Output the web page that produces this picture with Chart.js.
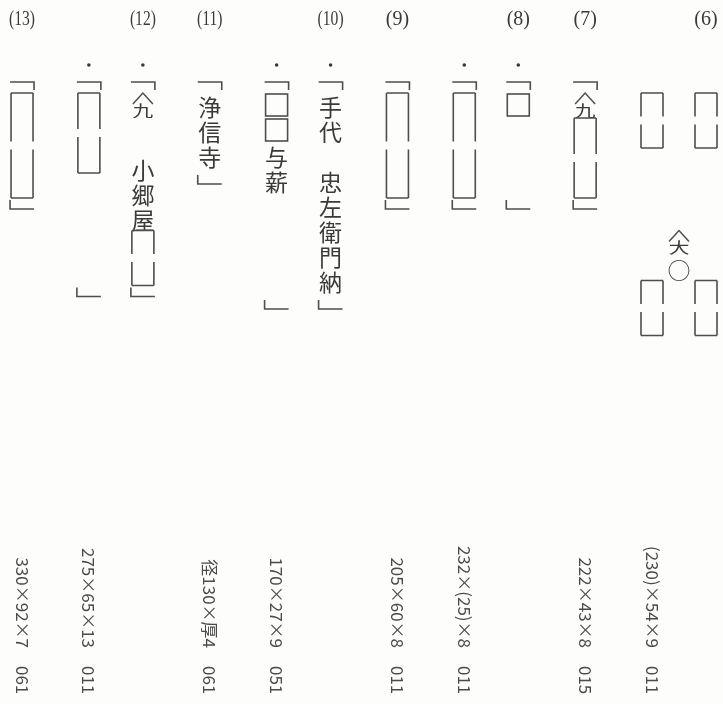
<!DOCTYPE html>
<html>
<head>
<meta charset="utf-8">
<script src="https://cdn.jsdelivr.net/npm/chart.js@4.4.0/dist/chart.umd.min.js"></script>
<style>
  html, body { margin: 0; background: #fdfdfc; }
  #wrap { width: 723px; height: 704px; }
</style>
</head>
<body>
<div id="wrap"><canvas id="c"></canvas></div>
<script>
// item numbers, right to left
const itemNos = ['(6)', '(7)', '(8)', '(9)', '(10)', '(11)', '(12)', '(13)'];
const dimensions = ['(230)×54×9', '222×43×8', '232×(25)×8', '205×60×8', '170×27×9', '径130×厚4', '275×65×13', '330×92×7'];
const typeCodes = ['011', '015', '011', '011', '051', '061', '011', '061'];

// one entry per written side (column); [n] = box of n characters, ^X = mark over X
const sideItem = [0, 0, 1, 2, 2, 3, 4, 4, 5, 6, 6, 7];
const sideText = [
  '　[2]　　　　　 [2]',
  '　[2]　　　　　 [2]',
  '「^九[3]」',
  '「□　　　」',
  '「[4]」',
  '「[4]」',
  '「手代　忠左衛門納」',
  '「□□与薪　　　　」',
  '「浄信寺」',
  '「^九　 小郷屋[2]」',
  '「[3]　　　　 」',
  '「[4]」'
];
const sideDot = [false, false, false, true, true, false, true, true, false, true, true, false];
const midText = ['　　　　　　 ^大○', '', '', '', '', '', '', ''];

// column slots: 1 between two sides of a piece, a bit more between pieces
const slots = [];
let s = 0;
sideItem.forEach((it, i) => {
  if (i > 0) s += (it === sideItem[i - 1]) ? 1 : 1.238;
  slots.push(s);
});

const INK = '#3a3a3a';
const LINE = '#4e4e4e';
const CJK = '"Noto Sans CJK JP", "Noto Sans CJK SC", sans-serif';

function isWide(ch) { return /[×\u3000-\u9fff]/.test(ch); }

function drawColumn(ctx, xs, ys, slot, text) {
  const x = xs.getPixelForValue(slot);
  const py = c => ys.getPixelForValue(c);
  const cell = py(1) - py(0);
  const chars = Array.from(text);
  let c = 0;
  ctx.strokeStyle = LINE;
  ctx.lineWidth = 1.6;
  ctx.fillStyle = INK;
  ctx.font = '23px ' + CJK;
  ctx.textAlign = 'center';
  ctx.textBaseline = 'middle';
  for (let i = 0; i < chars.length; i++) {
    const ch = chars[i];
    const t = py(c);
    if (ch === '　') { c += 1; continue; }
    if (ch === ' ') { c += 0.5; continue; }
    if (ch === '[') {
      let j = i + 1, num = '';
      while (chars[j] !== ']') num += chars[j++];
      const n = +num;
      const top = t - 2, bot = py(c + n) + 3, l = x - 11, r = x + 11;
      const mid = (top + bot) / 2;
      ctx.beginPath();
      ctx.moveTo(l, top); ctx.lineTo(r, top);
      ctx.moveTo(l, bot); ctx.lineTo(r, bot);
      if (n >= 2) {
        ctx.moveTo(l, top); ctx.lineTo(l, mid - 4);
        ctx.moveTo(l, mid + 4); ctx.lineTo(l, bot);
        ctx.moveTo(r, top); ctx.lineTo(r, mid - 4);
        ctx.moveTo(r, mid + 4); ctx.lineTo(r, bot);
      } else {
        ctx.moveTo(l, top); ctx.lineTo(l, bot);
        ctx.moveTo(r, top); ctx.lineTo(r, bot);
      }
      ctx.stroke();
      c += n; i = j; continue;
    }
    if (ch === '「') {
      ctx.beginPath();
      ctx.moveTo(x - 12, t + 12); ctx.lineTo(x + 12, t + 12); ctx.lineTo(x + 12, t + 20);
      ctx.stroke();
      c += 1; continue;
    }
    if (ch === '」') {
      ctx.beginPath();
      ctx.moveTo(x - 12, t + 5); ctx.lineTo(x - 12, t + 14); ctx.lineTo(x + 12, t + 14);
      ctx.stroke();
      c += 1; continue;
    }
    if (ch === '□') {
      ctx.strokeRect(x - 11, t - 1, 22, 22);
      c += 1; continue;
    }
    if (ch === '^') {
      // yama (roof) mark over a character
      ctx.beginPath();
      ctx.moveTo(x - 10, t + 9); ctx.lineTo(x, t - 2); ctx.lineTo(x + 10, t + 9);
      ctx.lineWidth = 1.5;
      ctx.stroke();
      ctx.lineWidth = 1.6;
      ctx.save();
      ctx.translate(x, t + 15);
      ctx.scale(0.9, 0.66);
      ctx.fillText(chars[i + 1], 0, 0);
      ctx.restore();
      c += 1; i += 1; continue;
    }
    ctx.fillText(ch, x, t + cell / 2);
    c += 1;
  }
}

function drawSideways(ctx, str, x, y, fs, alignEnd) {
  let total = 0;
  const ws = Array.from(str).map(ch => {
    const w = isWide(ch) ? fs : ctx.measureText(ch).width;
    total += w;
    return w;
  });
  ctx.save();
  ctx.translate(x, y);
  ctx.rotate(Math.PI / 2);
  let p = alignEnd ? -total : 0;
  Array.from(str).forEach((ch, k) => {
    ctx.fillText(ch, p + ws[k] / 2, 0);
    p += ws[k];
  });
  ctx.restore();
}

const pagePlugin = {
  id: 'page',
  afterDatasetsDraw(chart) {
    const ctx = chart.ctx;
    const xs = chart.scales.x, ys = chart.scales.y;
    ctx.save();
    sideText.forEach((t, i) => {
      drawColumn(ctx, xs, ys, slots[i], t);
      if (sideDot[i]) {
        ctx.fillStyle = INK;
        ctx.beginPath();
        ctx.arc(xs.getPixelForValue(slots[i]), ys.getPixelForValue(-0.2), 1.8, 0, Math.PI * 2);
        ctx.fill();
      }
    });
    itemNos.forEach((no, k) => {
      const idx = sideItem.map((v, i) => v === k ? i : -1).filter(i => i >= 0);
      const first = idx[0], last = idx[idx.length - 1];
      // number above the first side
      ctx.fillStyle = INK;
      ctx.font = '20px "Liberation Serif", "DejaVu Serif", serif';
      ctx.textAlign = 'center';
      ctx.textBaseline = 'middle';
      ctx.save();
      ctx.translate(xs.getPixelForValue(slots[first]), ys.getPixelForValue(-2));
      if (no.length > 3) ctx.scale(0.78, 1);
      ctx.fillText(no, 0, 0);
      ctx.restore();
      if (midText[k]) {
        const mid = (slots[first] + slots[last]) / 2;
        drawColumn(ctx, xs, ys, mid, midText[k]);
      }
      // size and type code under the last side
      ctx.fillStyle = '#4a4a4a';
      ctx.font = '17px ' + CJK;
      ctx.textAlign = 'center';
      ctx.textBaseline = 'middle';
      const xl = xs.getPixelForValue(slots[last]);
      drawSideways(ctx, dimensions[k], xl, ys.getPixelForValue(23.12), 17, true);
      drawSideways(ctx, typeCodes[k], xl, ys.getPixelForValue(23.84), 17, false);
    });
    ctx.restore();
  }
};

new Chart(document.getElementById('c'), {
  type: 'scatter',
  data: {
    datasets: [{
      data: slots.map(v => ({ x: v, y: 0 })),
      pointRadius: 0
    }]
  },
  options: {
    responsive: true,
    maintainAspectRatio: false,
    animation: false,
    layout: { padding: 0 },
    plugins: { legend: { display: false }, tooltip: { enabled: false } },
    scales: {
      x: { type: 'linear', display: false, reverse: true, min: -17 / 54, max: 706 / 54 },
      y: { type: 'linear', display: false, reverse: true, min: -2.8, max: 25.36 }
    }
  },
  plugins: [pagePlugin]
});
</script>
</body>
</html>
